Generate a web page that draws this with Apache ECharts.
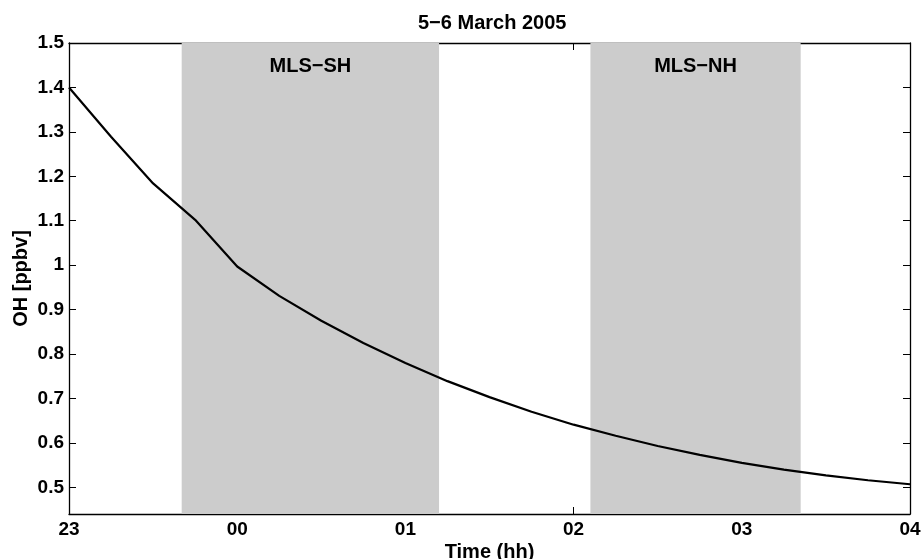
<!DOCTYPE html>
<html>
<head>
<meta charset="utf-8">
<script src="https://cdn.jsdelivr.net/npm/echarts@6/dist/echarts.min.js"></script>
<style>
  html, body { margin: 0; padding: 0; background: #fff; }
  #chart { width: 921px; height: 559px; }
</style>
</head>
<body>
<div id="chart"></div>
<script>
// time in hours (23 = 23:00 on 5 March, 24 = 00:00 on 6 March ...)
const times = [23, 23.25, 23.5, 23.75, 24, 24.25, 24.5, 24.75, 25, 25.25, 25.5, 25.75,
  26, 26.25, 26.5, 26.75, 27, 27.25, 27.5, 27.75, 28];
const ohValues = [1.400, 1.289, 1.184, 1.102, 0.997, 0.931, 0.875, 0.825, 0.780, 0.739,
  0.703, 0.670, 0.641, 0.616, 0.593, 0.573, 0.555, 0.540, 0.527, 0.516, 0.507];

// MLS overpass windows
const mlsWindows = [
  { name: "MLS\u2212SH", from: 23.67, to: 25.20 },
  { name: "MLS\u2212NH", from: 26.10, to: 27.35 },
];

const yTicks = [0.5, 0.6, 0.7, 0.8, 0.9, 1, 1.1, 1.2, 1.3, 1.4, 1.5];

const font = "Liberation Sans, Arial, Helvetica, sans-serif";
const hh = (v) => String(Math.round(v) % 24).padStart(2, "0");

const chart = echarts.init(document.getElementById("chart"));

const axisLine = { show: true, lineStyle: { color: "#000", width: 1.3 } };
const tick = { show: true, inside: true, length: 7, lineStyle: { color: "#000", width: 1 } };
const labelStyle = { fontFamily: font, fontWeight: "bold", fontSize: 19, color: "#000" };
const bigStyle = { fontFamily: font, fontWeight: "bold", fontSize: 20, color: "#000" };

chart.setOption({
  animation: false,
  backgroundColor: "#fff",
  title: {
    text: "5\u22126 March 2005",
    left: 413, top: 8,
    textStyle: bigStyle,
  },
  grid: { left: 69, right: 11, top: 43, bottom: 45, outerBoundsMode: "none", containLabel: false },
  xAxis: [
    {
      type: "value", min: 23, max: 28, interval: 1,
      name: "Time (hh)", nameLocation: "middle", nameGap: 28, nameMoveOverlap: false,
      nameTextStyle: bigStyle,
      axisLine, axisTick: tick,
      axisLabel: Object.assign({ margin: 6, formatter: hh }, labelStyle),
      splitLine: { show: false },
    },
    {
      type: "value", min: 23, max: 28, interval: 1, position: "top",
      axisLine, axisTick: tick, axisLabel: { show: false }, splitLine: { show: false },
    },
  ],
  yAxis: [
    {
      type: "value", min: 0.44, max: 1.5,
      name: "OH [ppbv]", nameLocation: "middle", nameGap: 38, nameRotate: 90, nameMoveOverlap: false,
      nameTextStyle: bigStyle,
      axisLine,
      axisTick: Object.assign({}, tick, { customValues: yTicks }),
      axisLabel: Object.assign({ margin: 5, customValues: yTicks }, labelStyle),
      splitLine: { show: false },
    },
    {
      type: "value", min: 0.44, max: 1.5, position: "right",
      axisLine,
      axisTick: Object.assign({}, tick, { customValues: yTicks }),
      axisLabel: { show: false, customValues: yTicks },
      splitLine: { show: false },
    },
  ],
  series: [
    {
      type: "line",
      data: times.map((t, i) => [t, ohValues[i]]),
      showSymbol: false,
      lineStyle: { color: "#000", width: 2.2 },
      z: 5,
      markArea: {
        silent: true,
        itemStyle: { color: "#cccccc" },
        label: Object.assign({ show: true, position: "insideTop", distance: 13 }, bigStyle),
        data: mlsWindows.map((w) => [
          { name: w.name, xAxis: w.from, yAxis: 1.5 },
          { xAxis: w.to, yAxis: 0.44 },
        ]),
      },
    },
  ],
});
</script>
</body>
</html>
